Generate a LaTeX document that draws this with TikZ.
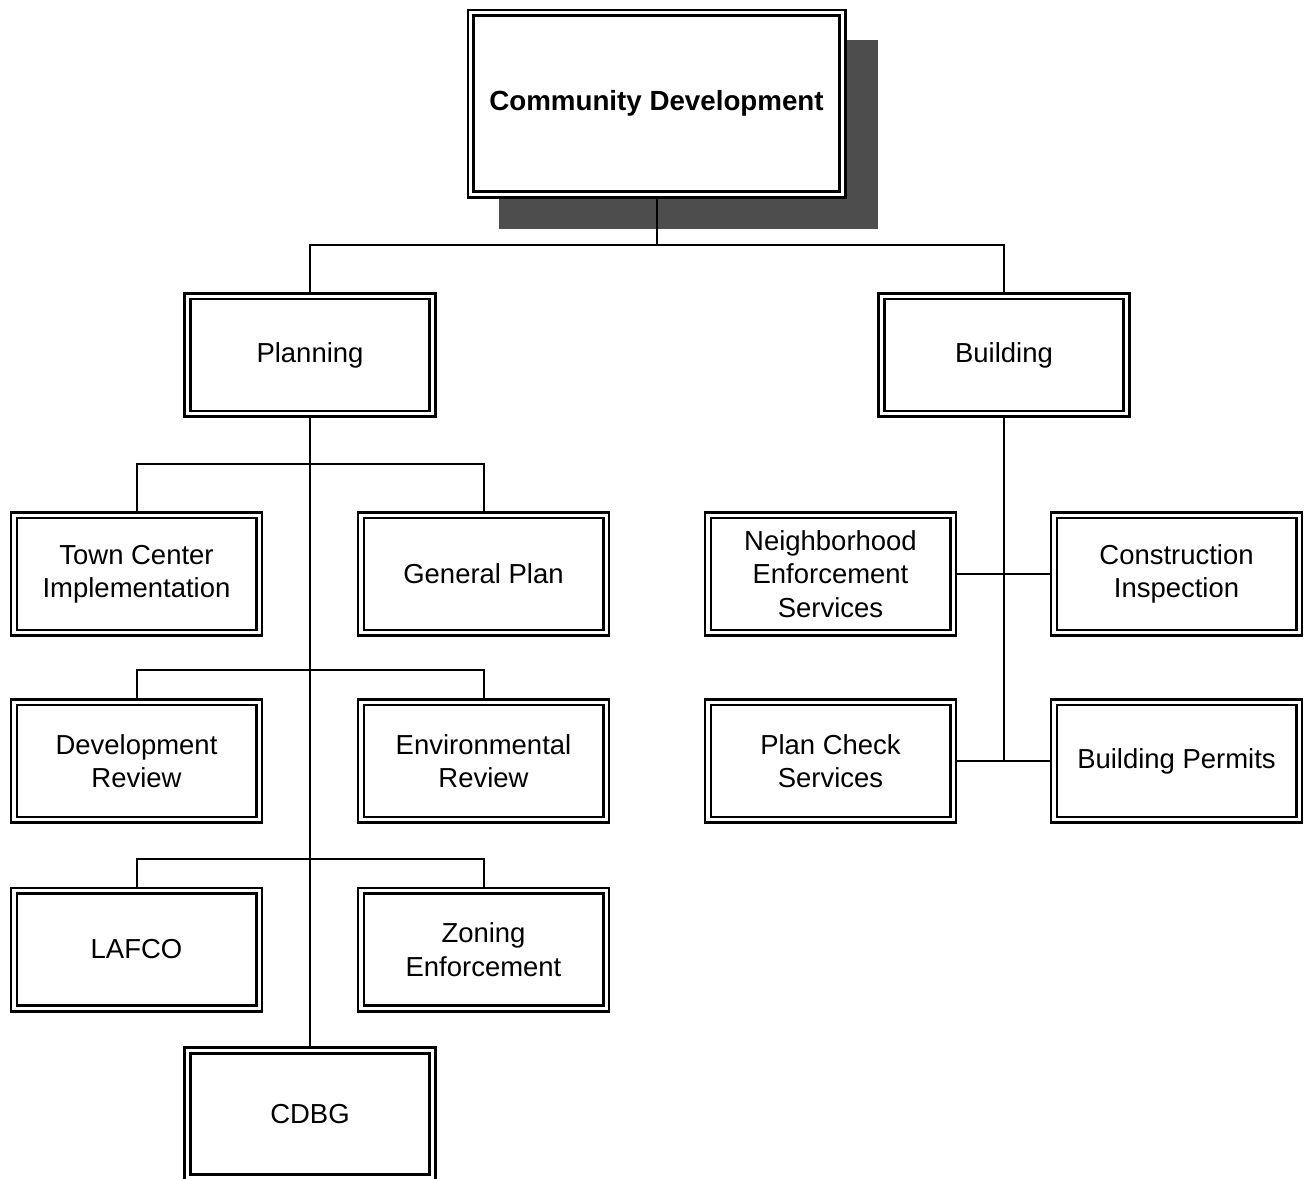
\documentclass[tikz,border=0pt]{standalone}
\usepackage{fontspec}
\setmainfont{Liberation Sans}
\usetikzlibrary{positioning,calc}
\definecolor{shadowgray}{RGB}{77,77,77}

\tikzset{
  unit/.style={draw, double, line width=1.9pt, double distance=2.5pt,
    minimum width=184pt, minimum height=88.2pt, inner sep=0pt, outer sep=3.15pt,
    align=center, font=\fontsize{20.6}{25}\selectfont},
  head/.style={unit, minimum width=278.7pt, minimum height=136.2pt,
    font=\fontsize{20.8}{25}\selectfont\bfseries},
  link/.style={line width=1.5pt}
}

\begin{document}
\begin{tikzpicture}[x=0.75pt,y=0.75pt,yscale=-1,xscale=1]
\useasboundingbox (0,0) rectangle (1309,1178);
\clip (0,0) rectangle (1309,1178);

%Shape: Shadow
\fill [shadowgray] (499,40) rectangle (878,229);

% Head Node
\node [head, fill=white] (cd) at (656.5,103.5) {Community Development};

% Division Nodes
\node [unit] (plan) at (310,355) {Planning};
\node [unit] (bld) at (1004,355) {Building};

% Planning Nodes
\node [unit] (tci) at (136.5,574) {Town Center\\Implementation};
\node [unit] (gp) at (483.5,574) {General Plan};
\node [unit] (dr) at (136.5,761) {Development\\Review};
\node [unit] (er) at (483.5,761) {Environmental\\Review};
\node [unit] (lafco) at (136.5,949.5) {LAFCO};
\node [unit] (ze) at (483.5,949.5) {Zoning\\Enforcement};
\node [unit, minimum height=95pt] (cdbg) at (310,1114) {CDBG};

% Building Nodes
\node [unit] (nes) at (830.5,574) {Neighborhood\\Enforcement\\Services};
\node [unit] (ci) at (1176.5,574) {Construction\\Inspection};
\node [unit] (pcs) at (830.5,761) {Plan Check\\Services};
\node [unit] (bp) at (1176.5,761) {Building Permits};

%Straight Lines
\draw [link] (cd.south) -- ++(0,46) coordinate (bus);
\draw [link] (plan.north) |- (bus) -| (bld.north);
\draw [link] (plan.south) -- (cdbg.north);
\draw [link] (tci.north) -- ++(0,-47) -| (gp.north);
\draw [link] (dr.north) -- ++(0,-28) -| (er.north);
\draw [link] (lafco.north) -- ++(0,-28) -| (ze.north);
\draw [link] (bld.south) -- (bld.south |- pcs.east);
\draw [link] (nes.east) -- (ci.west);
\draw [link] (pcs.east) -- (bp.west);

\end{tikzpicture}
\end{document}
